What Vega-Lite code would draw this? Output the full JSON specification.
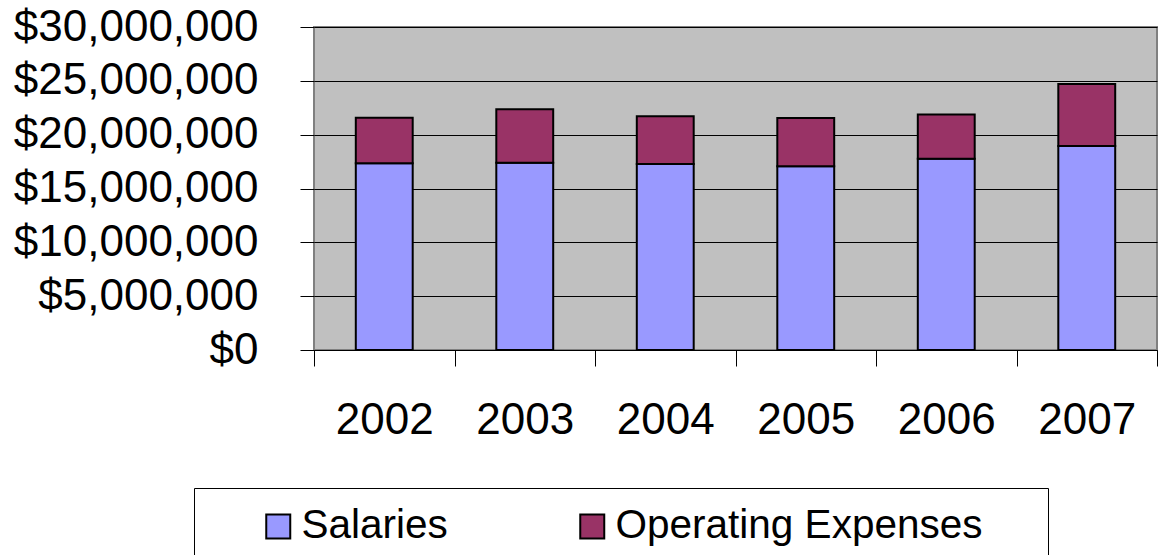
{
  "$schema": "https://vega.github.io/schema/vega-lite/v6.json",
  "width": 843,
  "height": 323,
  "autosize": {"type": "none"},
  "padding": {"left": 314, "top": 27, "right": 1, "bottom": 205},
  "background": "white",
  "config": {
    "font": "Liberation Sans",
    "view": {"fill": "#C0C0C0", "stroke": "#808080", "strokeWidth": 2}
  },
  "data": {
    "values": [
      {"year": "2002", "category": "Salaries", "amount": 17340000},
      {"year": "2002", "category": "Operating Expenses", "amount": 4240000},
      {"year": "2003", "category": "Salaries", "amount": 17400000},
      {"year": "2003", "category": "Operating Expenses", "amount": 4950000},
      {"year": "2004", "category": "Salaries", "amount": 17270000},
      {"year": "2004", "category": "Operating Expenses", "amount": 4430000},
      {"year": "2005", "category": "Salaries", "amount": 17060000},
      {"year": "2005", "category": "Operating Expenses", "amount": 4480000},
      {"year": "2006", "category": "Salaries", "amount": 17770000},
      {"year": "2006", "category": "Operating Expenses", "amount": 4110000},
      {"year": "2007", "category": "Salaries", "amount": 18940000},
      {"year": "2007", "category": "Operating Expenses", "amount": 5760000}
    ]
  },
  "mark": {"type": "bar", "stroke": "black", "strokeWidth": 2, "width": {"band": 0.405}},
  "encoding": {
    "x": {
      "field": "year",
      "type": "nominal",
      "scale": {"paddingInner": 0, "paddingOuter": 0},
      "axis": {
        "title": null,
        "labelAngle": 0,
        "labelFontSize": 44,
        "labelColor": "black",
        "labelPadding": 32,
        "tickBand": "extent",
        "tickSize": 16,
        "tickColor": "black",
        "domainColor": "black",
        "grid": false
      }
    },
    "y": {
      "field": "amount",
      "type": "quantitative",
      "stack": "zero",
      "scale": {"domain": [0, 30000000], "nice": false},
      "axis": {
        "title": null,
        "values": [0, 5000000, 10000000, 15000000, 20000000, 25000000, 30000000],
        "format": "$,.0f",
        "labelFontSize": 44,
        "labelColor": "black",
        "labelPadding": 42,
        "labelLimit": 400,
        "tickSize": 14,
        "tickColor": "black",
        "domain": false,
        "grid": true,
        "gridColor": "black"
      }
    },
    "color": {
      "field": "category",
      "type": "nominal",
      "sort": ["Salaries", "Operating Expenses"],
      "scale": {"domain": ["Salaries", "Operating Expenses"], "range": ["#9999FF", "#993366"]},
      "legend": {
        "orient": "none",
        "legendX": -120,
        "legendY": 461,
        "direction": "horizontal",
        "title": " ",
        "titleOrient": "right",
        "titleFontSize": 10,
        "titlePadding": 48,
        "padding": 18,
        "strokeColor": "black",
        "fillColor": "white",
        "symbolType": "square",
        "symbolSize": 576,
        "symbolStrokeColor": "black",
        "symbolStrokeWidth": 2,
        "symbolOffset": 46,
        "labelFontSize": 40.5,
        "labelColor": "black",
        "labelOffset": 3,
        "columnPadding": 78,
        "labelLimit": 600
      }
    }
  }
}
